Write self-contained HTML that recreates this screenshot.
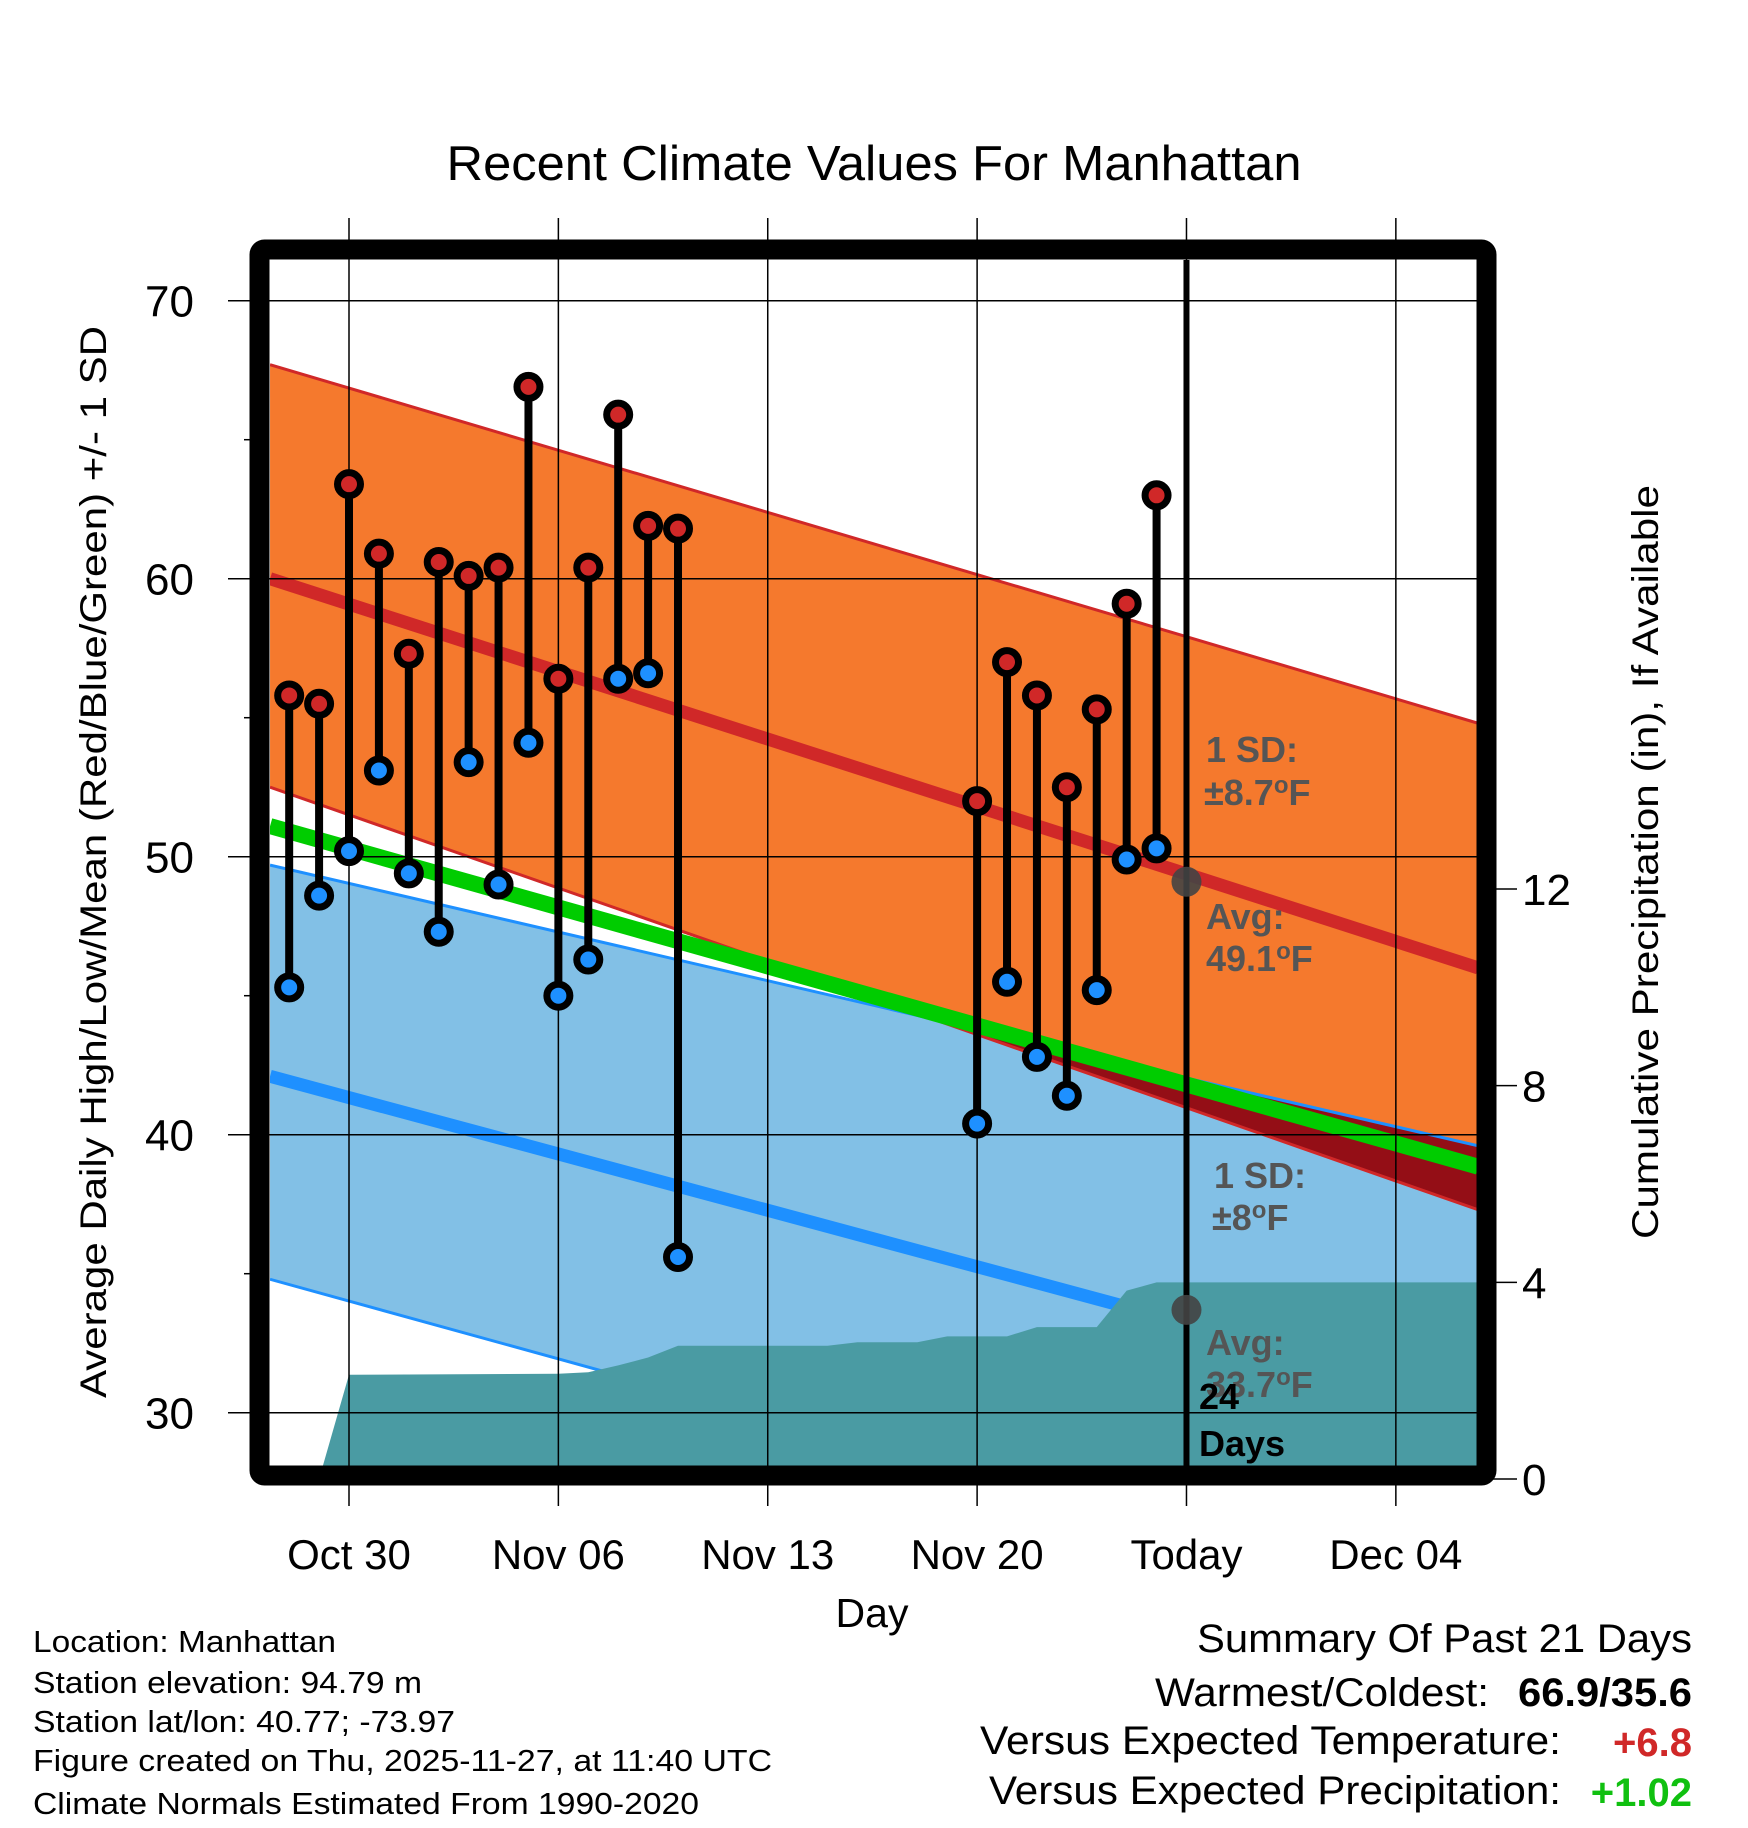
<!DOCTYPE html>
<html><head><meta charset="utf-8"><style>
body{margin:0;background:#fff}
svg{display:block;font-family:"Liberation Sans",sans-serif}
</style></head><body>
<svg id="chart" width="1748" height="1828" viewBox="0 0 1748 1828" xmlns="http://www.w3.org/2000/svg">
<defs><clipPath id="plotclip"><rect x="270" y="260" width="1208" height="1206"/></clipPath></defs>
<text x="874" y="180" font-size="49" text-anchor="middle" textLength="855" lengthAdjust="spacingAndGlyphs">Recent Climate Values For Manhattan</text>
<g id="under" clip-path="url(#plotclip)"></g>
<g id="grid"></g>
<g id="marks" clip-path="url(#plotclip)"></g>
<g id="axes"></g>
<rect x="259.5" y="249.5" width="1227" height="1226" rx="5" fill="none" stroke="#000" stroke-width="20"/>
<text transform="translate(106,862) rotate(-90)" font-size="37" text-anchor="middle" textLength="1072" lengthAdjust="spacingAndGlyphs">Average Daily High/Low/Mean (Red/Blue/Green) +/- 1 SD</text>
<text transform="translate(1658,862) rotate(-90)" font-size="37" text-anchor="middle" textLength="754" lengthAdjust="spacingAndGlyphs">Cumulative Precipitation (in), If Available</text>
<text x="872" y="1627" font-size="41" text-anchor="middle">Day</text>
<g font-size="31" lengthAdjust="spacingAndGlyphs">
<text x="33" y="1652" textLength="303" lengthAdjust="spacingAndGlyphs">Location: Manhattan</text>
<text x="33" y="1693" textLength="389" lengthAdjust="spacingAndGlyphs">Station elevation: 94.79 m</text>
<text x="33" y="1732" textLength="422" lengthAdjust="spacingAndGlyphs">Station lat/lon: 40.77; -73.97</text>
<text x="33" y="1771" textLength="739" lengthAdjust="spacingAndGlyphs">Figure created on Thu, 2025-11-27, at 11:40 UTC</text>
<text x="33" y="1814" textLength="666" lengthAdjust="spacingAndGlyphs">Climate Normals Estimated From 1990-2020</text>
</g>
<g font-size="40" text-anchor="end">
<text x="1692" y="1652" textLength="495" lengthAdjust="spacingAndGlyphs">Summary Of Past 21 Days</text>
<text x="1489" y="1706" textLength="334" lengthAdjust="spacingAndGlyphs">Warmest/Coldest:</text>
<text x="1692" y="1706" font-weight="bold" textLength="174" lengthAdjust="spacingAndGlyphs">66.9/35.6</text>
<text x="1561" y="1754" textLength="581" lengthAdjust="spacingAndGlyphs">Versus Expected Temperature:</text>
<text x="1692" y="1756" font-weight="bold" fill="#d02828">+6.8</text>
<text x="1561" y="1804" textLength="572" lengthAdjust="spacingAndGlyphs">Versus Expected Precipitation:</text>
<text x="1692" y="1806" font-weight="bold" fill="#10c010">+1.02</text>
</g>
</svg>
<script>
// ---- data ----
const dayOffsets = [-2,-1,0,1,2,3,4,5,6,7,8,9,10,11,21,22,23,24,25,26,27]; // days from Oct 30
const highs = [55.8,55.5,63.4,60.9,57.3,60.6,60.1,60.4,66.9,56.4,60.4,65.9,61.9,61.8,52.0,57.0,55.8,52.5,55.3,59.1,63.0];
const lows  = [45.3,48.6,50.2,53.1,49.4,47.3,53.4,49.0,54.1,45.0,46.3,56.4,56.6,35.6,40.4,45.5,42.8,41.4,45.2,49.9,50.3];
const climDays = [-2.64, 37.75];
const meanHigh = [60.0, 46.0];
const highUpper = [67.7, 54.8];
const highLower = [52.5, 37.3];
const meanTemp = [51.1, 38.85];
const meanLow = [42.1, 30.4];
const lowUpper = [49.7, 39.6];
const lowLower = [34.8, 22.8];
const precipDays = [-1,0,7,8,9,10,11,16,17,19,20,22,23,25,26,27,37.75];
const precipVals = [0,2.12,2.14,2.17,2.31,2.47,2.71,2.71,2.78,2.78,2.9,2.9,3.09,3.09,3.83,4.0,4.0];
const xTickDays = [0,7,14,21,28,35];
const xTickLabels = ["Oct 30","Nov 06","Nov 13","Nov 20","Today","Dec 04"];
const yTicks = [30,40,50,60,70];
const yMinor = [35,45,55,65];
const pTicks = [0,4,8,12];
const todayDay = 28;
const avgHigh = 49.1, avgLow = 33.7;

// ---- scales ----
const X = d => 349 + d*29.91;
const Y = t => 300.7 + (70 - t)*27.8;
const YP = p => 1479 - p*49.17;
const NS = "http://www.w3.org/2000/svg";
function mk(parent, tag, attrs){const e=document.createElementNS(NS,tag);for(const k in attrs)e.setAttribute(k,attrs[k]);parent.appendChild(e);return e;}
const under=document.getElementById('under'), grid=document.getElementById('grid'), marks=document.getElementById('marks'), axes=document.getElementById('axes');

function band(up, lo){return climDays.map((d,i)=>X(d)+','+Y(up[i])).concat(climDays.slice().reverse().map((d,j)=>{const i=climDays.length-1-j;return X(d)+','+Y(lo[i]);})).join(' ');}
function line(v){return climDays.map((d,i)=>X(d)+','+Y(v[i])).join(' ');}

let e;
e=mk(under,'polygon',{points:band(lowUpper,lowLower),fill:'#82c0e6'});


e=mk(under,'polyline',{points:line(lowLower),fill:'none',stroke:'#1e90ff','stroke-width':3});


e=mk(under,'polyline',{points:line(meanLow),fill:'none',stroke:'#1e90ff','stroke-width':13});


e=mk(under,'polygon',{points:band(highUpper,highLower),fill:'#f5792d'});


// overlap region (dark red) where high lower edge dips below low upper edge
const d0=climDays[0],d1=climDays[1];
const f0=highLower[0]-lowUpper[0], f1=highLower[1]-lowUpper[1];
if(f0*f1<0){const t=f0/(f0-f1);const dc=d0+t*(d1-d0);const yc=highLower[0]+t*(highLower[1]-highLower[0]);
 e=mk(under,'polygon',{points:[X(dc)+','+Y(yc),X(d1)+','+Y(lowUpper[1]),X(d1)+','+Y(highLower[1])].join(' '),fill:'#940e16'});
 
 }
e=mk(under,'polyline',{points:line(lowUpper),fill:'none',stroke:'#1e90ff','stroke-width':3});


e=mk(under,'polyline',{points:line(highUpper),fill:'none',stroke:'#d02828','stroke-width':3});


e=mk(under,'polyline',{points:line(highLower),fill:'none',stroke:'#d02828','stroke-width':3});


e=mk(under,'polyline',{points:line(meanHigh),fill:'none',stroke:'#d02828','stroke-width':13});


e=mk(under,'polyline',{points:line(meanTemp),fill:'none',stroke:'#00cc00','stroke-width':16});


// precipitation
let pp=precipDays.map((d,i)=>X(d)+','+YP(precipVals[i]));
pp.push(X(precipDays[precipDays.length-1])+','+YP(0));pp.push(X(precipDays[0])+','+YP(0));
e=mk(under,'polygon',{points:pp.join(' '),fill:'#4a9ba3'});



// grid
xTickDays.forEach((d,i)=>{
 e=mk(grid,'line',{x1:X(d),x2:X(d),y1:218,y2:1506,stroke:'#000','stroke-width':1.5});
 
 
 e=mk(axes,'text',{x:X(d),y:1569,'font-size':42,'text-anchor':'middle'});e.textContent=xTickLabels[i];
 
 
});
yTicks.forEach(t=>{
 e=mk(grid,'line',{x1:228,x2:1478,y1:Y(t),y2:Y(t),stroke:'#000','stroke-width':1.5});
 
 
 e=mk(axes,'text',{x:194,y:Y(t)+16,'font-size':44,'text-anchor':'end'});e.textContent=t;
 
 
});
yMinor.forEach(t=>{
 e=mk(axes,'line',{x1:244,x2:252,y1:Y(t),y2:Y(t),stroke:'#000','stroke-width':1.5});
 
 
});
pTicks.forEach(p=>{
 e=mk(axes,'line',{x1:1490,x2:1517,y1:YP(p),y2:YP(p),stroke:'#000','stroke-width':1.5});
 
 
 e=mk(axes,'text',{x:1522,y:YP(p)+16,'font-size':44});e.textContent=p;
 
 
});

// today line
e=mk(marks,'line',{x1:X(todayDay),x2:X(todayDay),y1:260,y2:1466,stroke:'#000','stroke-width':6});


// avg dots
[avgHigh,avgLow].forEach(v=>{
 e=mk(marks,'circle',{cx:X(todayDay),cy:Y(v),r:15,fill:'#444','fill-opacity':0.9});
 
 
});
// labels
function lbl(x,y,txt,fill,name){e=mk(marks,'text',{x:x,y:y,'font-size':36,'font-weight':'bold',fill:fill});e.innerHTML=txt;
 
 }
lbl(1206,762,'1 SD:','#555','high-sd-label');
lbl(1204,805,'±8.7<tspan dy="-12" font-size="24">o</tspan><tspan dy="12">F</tspan>','#555','high-sd-value');
lbl(1206,929,'Avg:','#555','high-avg-label');
lbl(1206,971,'49.1<tspan dy="-12" font-size="24">o</tspan><tspan dy="12">F</tspan>','#555','high-avg-value');
lbl(1214,1188,'1 SD:','#555','low-sd-label');
lbl(1212,1230,'±8<tspan dy="-12" font-size="24">o</tspan><tspan dy="12">F</tspan>','#555','low-sd-value');
lbl(1206,1355,'Avg:','#555','low-avg-label');
lbl(1206,1397,'33.7<tspan dy="-12" font-size="24">o</tspan><tspan dy="12">F</tspan>','#555','low-avg-value');
lbl(1199,1409,'24','#000','days-count');
lbl(1199,1456,'Days','#000','days-label');

// daily stems and markers
dayOffsets.forEach((d,i)=>{
 e=mk(marks,'line',{x1:X(d),x2:X(d),y1:Y(highs[i]),y2:Y(lows[i]),stroke:'#000','stroke-width':8});
 
 
 e=mk(marks,'circle',{cx:X(d),cy:Y(highs[i]),r:11.5,fill:'#d02828',stroke:'#000','stroke-width':7});
 
 
 e=mk(marks,'circle',{cx:X(d),cy:Y(lows[i]),r:11.5,fill:'#1e90ff',stroke:'#000','stroke-width':7});
 
 
});
</script>
</body></html>
